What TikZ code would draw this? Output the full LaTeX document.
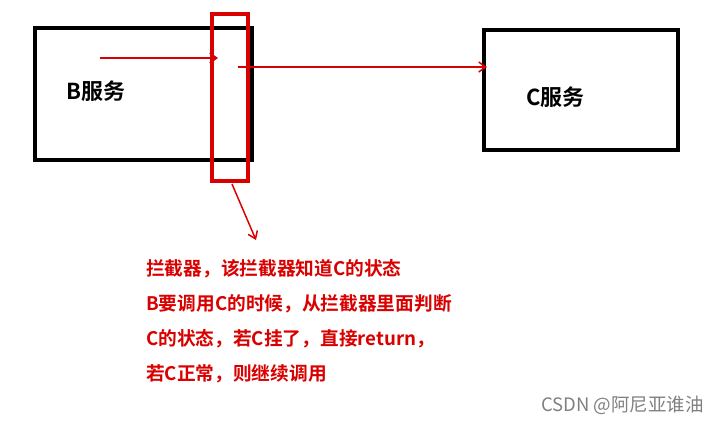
\documentclass[tikz,border=0pt]{standalone}
\usepackage{fontspec}
\setmainfont{Noto Sans CJK SC}
\newfontfamily\cjkb{Noto Sans CJK SC Bold}
\usetikzlibrary{arrows.meta}
\begin{document}
\begin{tikzpicture}[x=1pt,y=-1pt,
  box/.style={draw=black,line width=4pt},
  redbox/.style={draw=red!85!black,line width=3.5pt},
  conn/.style={draw=red!85!black,line width=1.5pt,-{Straight Barb[length=7pt,width=10pt]}},
  lbl/.style={font=\cjkb\fontsize{22}{26}\selectfont,anchor=west,inner sep=0pt},
  note/.style={font=\cjkb\fontsize{18.7}{22}\selectfont,text=red!85!black,anchor=west,inner sep=0pt}]
\useasboundingbox[fill=white] (0,0) rectangle (728,424);
\draw[box] (35,28) rectangle (252,160);
\draw[box] (484,30) rectangle (678,150);
\draw[redbox] (212,14) rectangle (248,181);
\coordinate (a1) at (100,58); \coordinate (a2) at (218,58);
\coordinate (b1) at (238,67); \coordinate (b2) at (487,67);
\coordinate (c1) at (232,184); \coordinate (c2) at (256,240);
\draw[conn] (a1) -- (a2);
\draw[conn] (b1) -- (b2);
\draw[conn] (c1) -- (c2);
\node[lbl] (B) at (66,91) {B服务};
\node[lbl] (C) at (526,97) {C服务};
\node[note] (n1) at (146,269) {拦截器，该拦截器知道C的状态};
\node[note] (n2) at (146,304) {B要调用C的时候，从拦截器里面判断};
\node[note] (n3) at (146,339) {C的状态，若C挂了，直接return，};
\node[note] (n4) at (146,374) {若C正常，则继续调用};
\node[font=\fontsize{18.5}{21}\selectfont,text=gray,anchor=west,inner sep=0pt] (w) at (541,405) {CSDN @阿尼亚谁油};
\end{tikzpicture}
\end{document}
